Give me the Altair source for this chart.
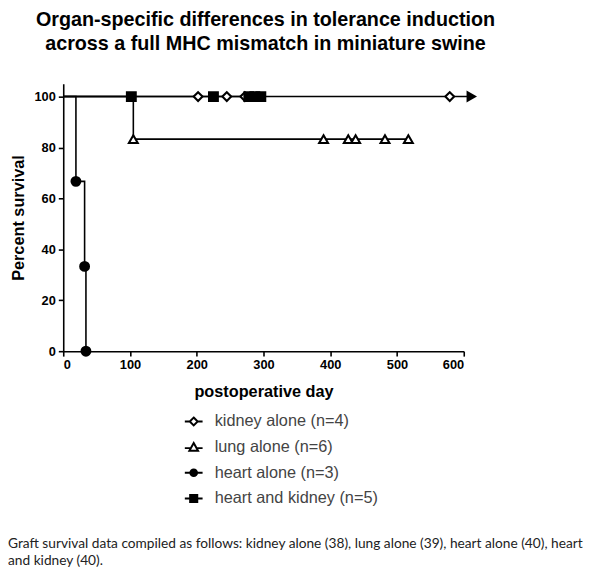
import altair as alt
import pandas as pd

series_names = ["kidney alone (n=4)", "lung alone (n=6)", "heart alone (n=3)", "heart and kidney (n=5)"]

# Kaplan-Meier step curves: postoperative day / percent survival
kidney_curve_day = [0, 612]
kidney_curve_pct = [100, 100]
lung_curve_day = [0, 105, 517]
lung_curve_pct = [100, 83.3, 83.3]
heart_curve_day = [0, 19, 32, 34]
heart_curve_pct = [100, 66.7, 33.3, 0]
hk_curve_day = [0, 296]
hk_curve_pct = [100, 100]

# symbols (events / censored animals)
kidney_mark_day = [202, 245, 272, 579]
kidney_mark_pct = [100, 100, 100, 100]
lung_mark_day = [105, 390, 427, 438, 482, 517]
lung_mark_pct = [83.3, 83.3, 83.3, 83.3, 83.3, 83.3]
heart_mark_day = [19, 32, 34]
heart_mark_pct = [66.7, 33.3, 0]
hk_mark_day = [102, 225, 278, 287, 296]
hk_mark_pct = [100, 100, 100, 100, 100]

# "continues" arrow on the kidney curve
arrow_day = [612]
arrow_pct = [100]

x_ticks = [0, 100, 200, 300, 400, 500, 600]
y_ticks = [0, 20, 40, 60, 80, 100]

title_lines = ["Organ-specific differences in tolerance induction",
               "across a full  MHC mismatch in miniature swine"]
caption_lines = ["Graft survival data compiled as follows: kidney alone (38), lung alone (39), heart alone (40), heart",
                 "and kidney (40)."]

curves = pd.concat([
    pd.DataFrame({"series": series_names[0], "day": kidney_curve_day, "pct": kidney_curve_pct}),
    pd.DataFrame({"series": series_names[1], "day": lung_curve_day, "pct": lung_curve_pct}),
    pd.DataFrame({"series": series_names[2], "day": heart_curve_day, "pct": heart_curve_pct}),
    pd.DataFrame({"series": series_names[3], "day": hk_curve_day, "pct": hk_curve_pct}),
])
marks = pd.concat([
    pd.DataFrame({"series": series_names[0], "day": kidney_mark_day, "pct": kidney_mark_pct}),
    pd.DataFrame({"series": series_names[1], "day": lung_mark_day, "pct": lung_mark_pct}),
    pd.DataFrame({"series": series_names[2], "day": heart_mark_day, "pct": heart_mark_pct}),
    pd.DataFrame({"series": series_names[3], "day": hk_mark_day, "pct": hk_mark_pct}),
])
arrow = pd.DataFrame({"day": arrow_day, "pct": arrow_pct})

xs = alt.Scale(domain=[0, 600], nice=False, zero=False)
ys = alt.Scale(domain=[0, 105], nice=False)

X = alt.X("day:Q", scale=xs,
          axis=alt.Axis(values=x_ticks, title="postoperative day", labelPadding=3, titlePadding=12))
Y = alt.Y("pct:Q", scale=ys,
          axis=alt.Axis(values=y_ticks, title="Percent survival", labelPadding=3, titlePadding=8))

lines = alt.Chart(curves).mark_line(interpolate="step-after", color="black", strokeWidth=1.6).encode(
    x=X, y=Y, detail="series:N", order="day:Q")

plot_shapes = ["diamond", "triangle-up", "circle", "square"]
fills = ["white", "white", "black", "black"]
strokes = ["black", "black", "black", "black"]
sizes = [80, 80, 46, 56]

points = alt.Chart(marks).mark_point(filled=True, stroke="black", strokeWidth=2.1, opacity=1).encode(
    x=X, y=Y,
    shape=alt.Shape("series:N", scale=alt.Scale(domain=series_names, range=plot_shapes), legend=None),
    fill=alt.Fill("series:N", scale=alt.Scale(domain=series_names, range=fills), legend=None),
    size=alt.Size("series:N", scale=alt.Scale(domain=series_names, range=sizes), legend=None),
)

arrow_mark = alt.Chart(arrow).mark_point(shape="triangle-right", filled=True, color="black", size=150, opacity=1).encode(
    x=X, y=Y)

legend_paths = [
    "M-2.25,0H-1M1,0H2.25M0,-1L1,0L0,1L-1,0Z",
    "M-2.25,0.25H-0.75M0.75,0.25H2.25M0,-1.05L1.1,0.9L-1.1,0.9Z",
    "M-2.25,0H2.25M-0.85,0A0.85,0.85 0 1,0 0.85,0A0.85,0.85 0 1,0 -0.85,0Z",
    "M-2.25,0H2.25M-0.9,-0.9H0.9V0.9H-0.9Z",
]
leg = alt.Legend(title=None, orient="none", legendX=124, legendY=334, padding=0,
                 symbolSize=64, symbolStrokeColor="black", symbolStrokeWidth=2, symbolOpacity=1,
                 labelFont="Liberation Sans", labelFontSize=16.5, labelColor="#444444", labelLimit=400,
                 labelOffset=13, rowPadding=9)
legend_layer = alt.Chart(marks).mark_point(filled=True, opacity=0).encode(
    x=X, y=Y,
    shape=alt.Shape("series:N", scale=alt.Scale(domain=series_names, range=legend_paths), legend=leg),
    fill=alt.Fill("series:N", scale=alt.Scale(domain=series_names, range=fills), legend=leg),
    stroke=alt.Stroke("series:N", scale=alt.Scale(domain=series_names, range=strokes), legend=leg),
)

title_df = pd.DataFrame({"t": title_lines, "yy": [-64.5, -40]})
title_text = alt.Chart(title_df).mark_text(font="Liberation Sans", fontWeight="bold", fontSize=20,
                                           align="center", baseline="middle", color="black").encode(
    text="t:N", x=alt.value(205), y=alt.Y("yy:Q", scale=None))

cap_df = pd.DataFrame({"t": caption_lines, "yy": [466, 484]})
caption = alt.Chart(cap_df).mark_text(font="Lato", fontSize=13.9, align="left", baseline="middle",
                                      color="#222222").encode(
    text="t:N", x=alt.value(-56), y=alt.Y("yy:Q", scale=None))

chart = alt.layer(lines, points, arrow_mark, legend_layer, title_text, caption).resolve_scale(
    shape="independent", fill="independent", size="independent", stroke="independent"
).properties(
    width=406, height=271, background="white",
    padding={"left": 56, "top": 73, "right": 130, "bottom": 224},
    autosize=alt.AutoSizeParams(type="none"),
).configure_view(stroke=None).configure_axis(
    grid=False, domainColor="black", tickColor="black", labelColor="black", titleColor="black",
    labelFont="Liberation Sans", titleFont="Liberation Sans", labelFontWeight="bold", titleFontWeight="bold",
    labelFontSize=13, titleFontSize=16.5, domainWidth=1.6, tickWidth=1.6, tickSize=5,
)

chart.save("out.html", embed_options={"renderer": "svg", "actions": False})
